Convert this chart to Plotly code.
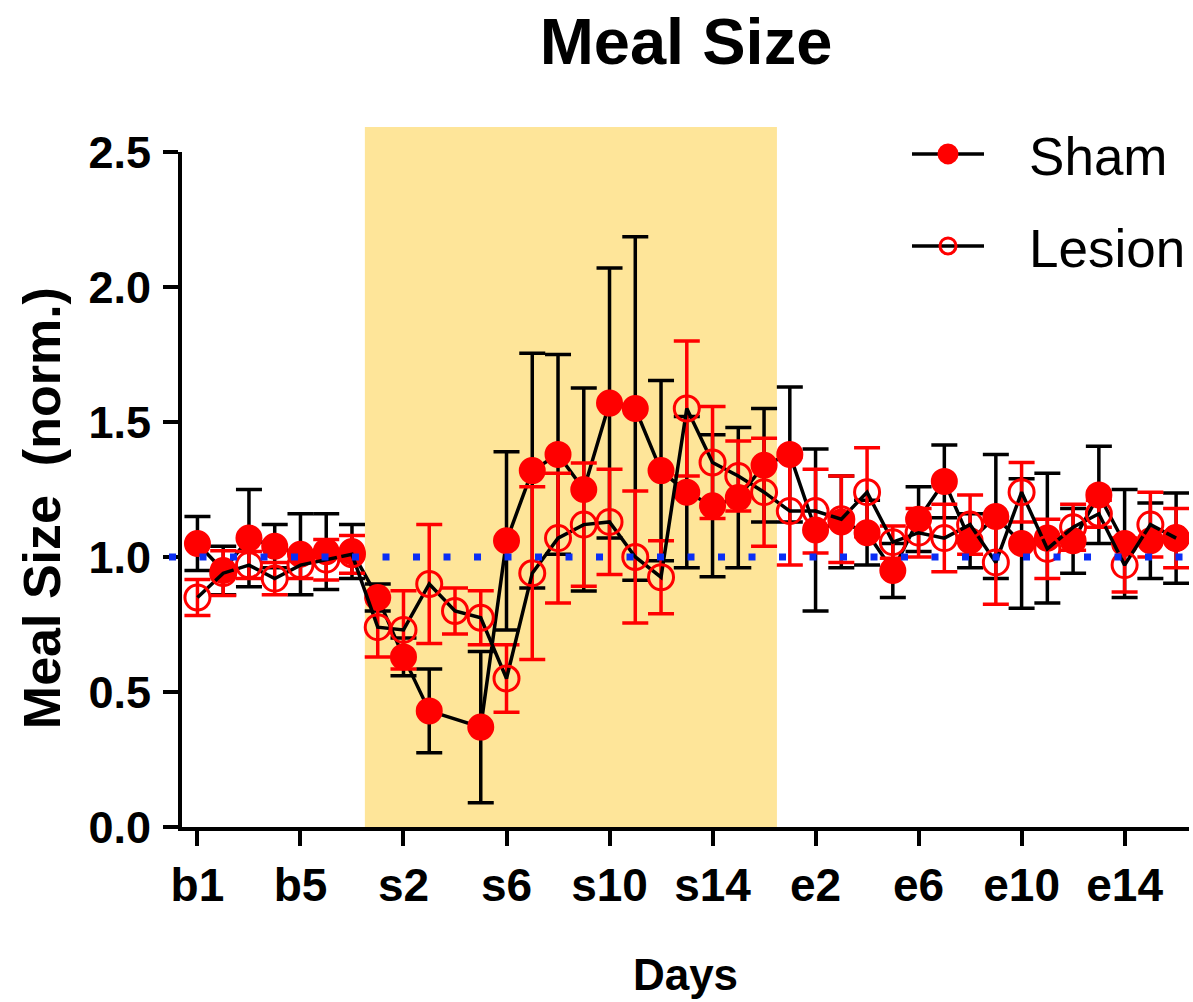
import plotly.graph_objects as go

categories = ["b1", "b2", "b3", "b4", "b5", "b6", "b7",
              "s1", "s2", "s3", "s4", "s5", "s6", "s7", "s8", "s9", "s10",
              "s11", "s12", "s13", "s14", "s15", "s16",
              "e1", "e2", "e3", "e4", "e5", "e6", "e7", "e8", "e9", "e10",
              "e11", "e12", "e13", "e14", "e15", "e16"]
tick_labels = ["b1", "b5", "s2", "s6", "s10", "s14", "e2", "e6", "e10", "e14"]

sham = [1.05, 0.95, 1.07, 1.04, 1.01, 1.02, 1.02,
        0.85, 0.63, 0.43, None, 0.37, 1.06, 1.32, 1.38, 1.25, 1.57,
        1.55, 1.32, 1.24, 1.19, 1.22, 1.34,
        1.38, 1.10, 1.13, 1.09, 0.95, 1.14, 1.28, 1.06, 1.15, 1.05,
        1.07, 1.06, 1.23, 1.05, 1.06, 1.07]
sham_err = [0.10, 0.09, 0.18, 0.08, 0.15, 0.14, 0.10,
            0.05, 0.07, 0.155, None, 0.28, 0.33, 0.435, 0.37, 0.376, 0.50,
            0.636, 0.334, 0.28, 0.263, 0.26, 0.21,
            0.25, 0.30, 0.17, 0.12, 0.10, 0.12, 0.135, 0.10, 0.23, 0.24,
            0.24, 0.12, 0.18, 0.20, 0.14, 0.167]

lesion = [0.85, 0.94, 0.97, 0.92, 0.97, 0.99, 1.01,
          0.74, 0.73, 0.90, 0.80, 0.775, 0.55, 0.94, 1.07, 1.12, 1.13,
          1.00, 0.925, 1.55, 1.35, 1.30, 1.24,
          1.17, 1.17, 1.14, 1.24, 1.055, 1.09, 1.07, 1.12, 0.98, 1.24,
          1.03, 1.11, 1.16, 0.97, 1.12, 1.07]
lesion_err = [0.067, 0.083, 0.05, 0.06, 0.05, 0.075, 0.07,
              0.11, 0.145, 0.22, 0.085, 0.10, 0.125, 0.32, 0.24, 0.228, 0.195,
              0.244, 0.135, 0.25, 0.207, 0.13, 0.20,
              0.20, 0.155, 0.16, 0.165, 0.06, 0.09, 0.125, 0.11, 0.155, 0.11,
              0.11, 0.085, 0.05, 0.10, 0.12, 0.11]

baseline = 1.0
shade_start, shade_end = "s1", "s16"

BOLD = "Liberation Sans, Arial, sans-serif"

W, H = 1193, 1002
PL, PR, PT, PB = 182, 1190, 152, 827  # plot area in pixels
PW, PH = PR - PL, PB - PT

fig = go.Figure()

fig.add_trace(go.Scatter(
    x=categories, y=sham, name="\u00a0\u00a0\u2009Sham", mode="lines+markers", connectgaps=True,
    line=dict(color="black", width=3.5),
    marker=dict(color="red", size=22, symbol="circle", line=dict(color="red", width=5)),
    error_y=dict(type="data", array=sham_err, color="black", thickness=3.5, width=13),
    legend="legend",
))
fig.add_trace(go.Scatter(
    x=categories, y=lesion, name="\u00a0\u00a0\u2009Lesion", mode="lines+markers", connectgaps=True,
    line=dict(color="black", width=3.5),
    marker=dict(color="red", size=25, symbol="circle-open", line=dict(color="red", width=3)),
    error_y=dict(type="data", array=lesion_err, color="red", thickness=3.5, width=13),
    legend="legend2",
))

x0 = categories.index(shade_start) - 0.5
x1 = categories.index(shade_end) + 0.5
fig.add_shape(type="rect", xref="x", yref="paper", x0=x0, x1=x1, y0=0, y1=(PB - 127) / PH,
              fillcolor="#FEE599", line_width=0, layer="below")
fig.add_shape(type="line", xref="paper", yref="y", x0=(169 - PL) / PW, x1=1.0, y0=baseline, y1=baseline,
              line=dict(color="#0a2ef5", width=7, dash="7px,23.5px"), layer="above")

fig.update_layout(
    width=W, height=H,
    margin=dict(l=PL, r=W - PR, t=PT, b=H - PB),
    paper_bgcolor="white", plot_bgcolor="white",
    title=dict(text="<b>Meal Size</b>", font=dict(family=BOLD, size=65, color="black"),
               x=(PL + PR) / 2 / W, xanchor="center", xref="container",
               y=1 - 41 / H, yanchor="middle", yref="container"),
    xaxis=dict(type="category", range=[-0.6, 38.5], tickmode="array",
               tickvals=tick_labels, ticktext=["<b>%s</b>" % t for t in tick_labels],
               showline=True, linecolor="black", linewidth=4, mirror=False,
               ticks="outside", ticklen=15, tickwidth=4, tickcolor="black",
               showgrid=False, zeroline=False, ticklabelstandoff=0,
               tickfont=dict(family=BOLD, size=46, color="black"),
               title=dict(text="<b>Days</b>", font=dict(family=BOLD, size=44, color="black"), standoff=50)),
    yaxis=dict(range=[0, 2.5], tickmode="array", tickvals=[0, 0.5, 1.0, 1.5, 2.0, 2.5],
               ticktext=["<b>0.0</b>", "<b>0.5</b>", "<b>1.0</b>", "<b>1.5</b>", "<b>2.0</b>", "<b>2.5</b>"],
               showline=True, linecolor="black", linewidth=4,
               ticks="outside", ticklen=15, tickwidth=4, tickcolor="black",
               showgrid=False, zeroline=False, ticklabelstandoff=3,
               tickfont=dict(family=BOLD, size=45, color="black")),
    annotations=[dict(text="<b>Meal Size  (norm.)</b>", textangle=-90, xref="paper", yref="paper",
                      x=(42 - PL) / PW, y=(PB - 508) / PH, xanchor="center", yanchor="middle",
                      showarrow=False, font=dict(family=BOLD, size=52, color="black"))],
    legend=dict(x=(907 - PL) / PW, y=(PB - 154) / PH, xanchor="left", yanchor="middle",
                font=dict(family=BOLD, size=53, color="black"), itemwidth=72,
                bgcolor="rgba(0,0,0,0)"),
    legend2=dict(x=(907 - PL) / PW, y=(PB - 246) / PH, xanchor="left", yanchor="middle",
                 font=dict(family=BOLD, size=53, color="black"), itemwidth=72,
                 bgcolor="rgba(0,0,0,0)"),
    showlegend=True,
)

# remove the default page margin so the 1193x1002 figure fills the window exactly
fig.write_html("out.html", config={"displayModeBar": False},
               post_script="document.body.style.margin='0';")
